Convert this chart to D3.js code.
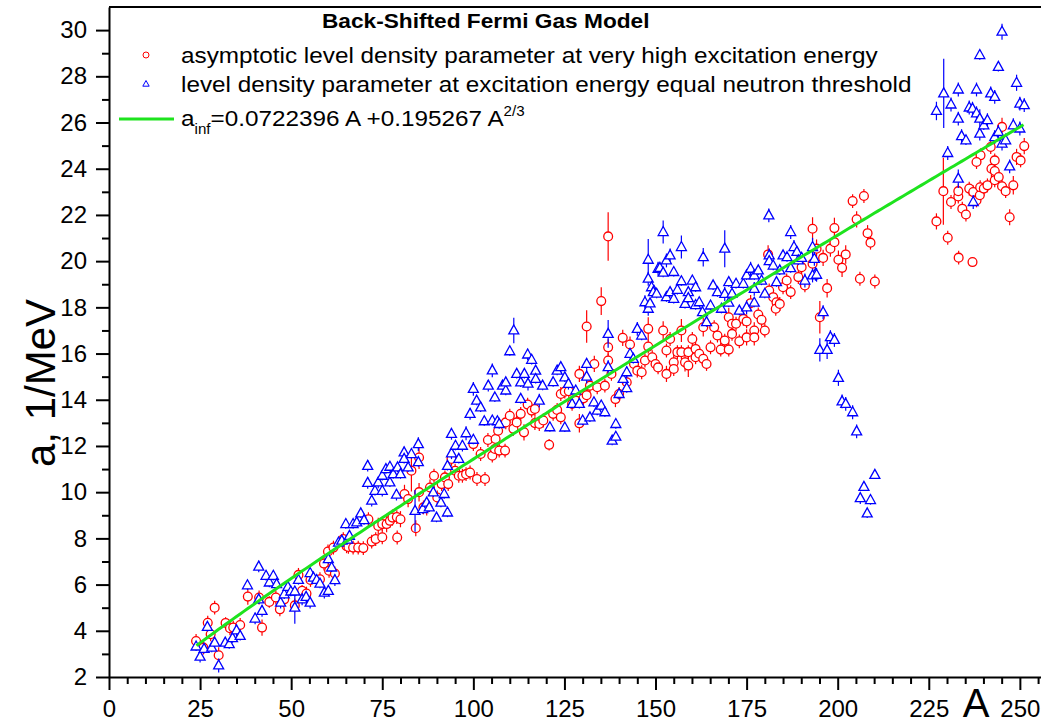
<!DOCTYPE html>
<html>
<head>
<meta charset="utf-8">
<script src="https://cdn.jsdelivr.net/npm/d3@7"></script>
<style>
  html, body { margin: 0; padding: 0; background: #fff; }
  svg text { font-family: "Liberation Sans", Arial, sans-serif; fill: #000; }
</style>
</head>
<body>
<svg id="chart" width="1041" height="726"></svg>
<script>
// Asymptotic level density parameter at very high excitation energy: [A, a (1/MeV), error]
const asymptotic = [
  [23.9,3.56,.3],[25.9,3.27,.3],[27.1,4.35,.3],[27.9,3.85,.3],[29.0,5.0,.3],[30.1,2.94,.35],[32.0,4.34,.25],[33.2,4.11,.3],[34.1,4.14,.3],[36.0,4.25,.3],
  [38.1,5.48,.35],[41.2,5.44,.3],[42.0,4.14,.35],[44.0,5.25,.25],[45.8,5.44,.3],[46.9,4.93,.3],[48.1,5.36,.3],[51.0,5.1,.3],[52.0,6.42,.3],[53.0,5.73,.25],
  [54.2,5.61,.3],[55.3,6.2,.3],[57.9,6.23,.3],[59.0,6.91,.3],[60.1,7.43,.3],[60.4,6.6,.3],[62.0,6.48,.3],[64.3,7.97,.3],[65.2,7.66,.3],
  [61.6,7.6,.3],[65.7,7.63,.3],[67,7.6,.3],[68.4,7.6,.3],[69.8,7.58,.3],[71.2,8.83,.3],[72.1,7.86,.3],[73.2,7.97,.3],[73.9,8.54,.35],[75,8.62,.3],
  [75,8.05,.3],[76.2,8.62,.35],[77.1,8.76,.3],[77.8,8.9,.35],[79.1,8.04,.3],[79,8.92,.3],[80,8.83,.35],[81.1,9.92,.4],[82.1,9.7,.35],[83,10.93,.9],
  [84.2,8.44,.35],[85.1,11.5,.5],[85.1,10,.4],[86.3,9.34,.3],[87.2,9.34,.35],[88.1,10.2,.35],[89.2,10.71,.3],[90.1,9.77,.3],[91.3,10.35,.3],[92.2,10.64,.3],
  [93.1,10.35,.3],[94,11.44,.3],[95,10.93,.3],[96,10.71,.3],[97,10.71,.3],[98,10.78,.3],[99.1,10.85,.3],[100,12.08,.3],[101,10.57,.3],[102,11.65,.3],
  [103.2,10.57,.3],[104,12.26,.3],[105.2,11.58,.3],[106.1,12.3,.3],[106.8,12.66,.3],
  [105.9,11.87,.3],[107.1,11.8,.3],[108.7,11.8,.3],[108.9,13.02,.3],[110,13.31,.3],[111,12.74,.3],[111.9,13.02,.3],[113,13.39,.3],[113.9,12.59,.35],[114.9,13.79,.3],
  [116,13.53,.3],[116.9,13.6,.3],[116.9,12.99,.3],[118.1,12.95,.3],[119.2,13.1,.3],[120.8,12.05,.25],[121.9,13.39,.3],[123,13.56,.3],[124,14.25,.3],[124,13.24,.3],
  [125.1,14.35,.3],[126.2,14.37,.3],[127.1,13.82,.3],[128.2,13.96,.3],[129.1,15.12,.35],[129.1,12.98,.4],[130.2,14.06,.3],[131.1,17.17,.7],[131.1,14.2,.3],[132,14.61,.3],
  [133.2,15.55,.35],[134,14.54,.3],[135.1,18.27,.6],[136.1,14.61,.3],[137,21.07,1.05],[137,16.27,.35],[137,15.7,.3],[137.9,15.12,.3],[139,14.03,.35],[140,14.25,.3],
  [141,16.68,.35],[142.1,14.76,.3],[143,16.39,.35],[144.1,15.55,.3],[145,15.26,.3],[146.2,15.19,.3],[147.1,15.7,.3],[148,17.07,.5],[148,16.3,.3],[149.1,15.84,.3],
  [150,15.55,.3],[150.7,15.4,.3],
  [152.1,17.0,.4],[153,16.13,.3],[153,15.12,.35],[154,16.63,.3],[155,15.62,.35],[155,15.33,.3],[156,16.06,.3],[157.1,17.0,.5],[157.1,16.06,.3],[158.1,15.62,.4],
  [159,16.06,.3],[159,15.48,.5],[160.1,16.63,.3],[161,16.2,.3],[161,15.84,.3],[162,15.99,.3],[163.1,15.77,.3],[164,15.55,.3],[163.1,17.14,.4],[165.1,16.27,.3],
  [166.1,17.14,.3],[167,16.78,.3],[167.9,16.17,.3],[169,16.56,.3],[170.1,16.17,.3],[170.1,17.57,.4],[171,17.29,.35],[171,16.85,.3],[172.1,17.29,.3],[173,16.53,.3],
  [174.1,17.5,.3],[175,17.39,.3],[175,16.7,.35],[176.1,18.18,.35],[177.1,17.0,.35],[177.1,16.7,.35],[178.2,17.69,.3],[179.1,17.46,.3],[180,17.0,.3],[180.9,20.29,.4],
  [181.2,18.73,.3],[182.3,18.44,.3],[183.2,18.22,.3],[183,17.94,.3],[184.1,18.15,.3],[185,18.87,.3],[186,19.16,.3],[187.1,18.66,.3],[189.2,19.31,.3],[190.1,19.74,.3],
  [191,18.95,.3],[193.1,21.4,.5],[193.1,19.89,.3],
  [194.2,20.54,.4],[195.1,17.57,.7],[196,20.14,.35],[197.1,18.83,.4],[198,20.54,.35],[199.1,21.43,.45],[199.1,20.82,.3],[200.2,20.06,.4],[201.2,19.71,.4],[202.2,20.29,.4],
  [204.1,22.6,.3],[205.2,21.81,.35],[206.1,19.24,.3],[207.2,22.82,.3],[208.2,21.21,.35],[209,20.8,.3],[210.2,19.12,.3],
  [227.1,21.72,.35],[229,23.03,1.45],[230.2,21.01,.3],[231.1,22.56,.3],[233.1,22.8,.3],[233.1,23.03,.3],[233.2,20.15,.3],[234.2,22.27,.3],[235.2,22.02,.3],[236.1,23.14,.3],
  [237,19.96,.2],[237.2,22.99,.3],[238.1,22.63,.3],[239,22.85,.3],[239.1,23.2,.3],[239.2,24.58,.3],[238.1,24.29,.3],[240.1,23.14,.3],[241.1,23.28,.3],[242,24.94,.3],
  [242.2,24.0,.4],[243.1,24.36,.3],[243.1,23.9,.3],[243.1,23.5,.3],[244.2,23.64,.3],[245.1,25.81,.4],[245.1,23.24,.3],[246.1,23.03,.3],[247.2,21.9,.35],[248.2,23.28,.4],
  [249.1,24.51,.35],[250.2,24.36,.3],[251.2,24.98,.35]
];

// Level density parameter at excitation energy equal to the neutron threshold: [A, a (1/MeV), error]
const threshold = [
  [23.9,3.32,.2],[25,2.88,.25],[26.1,3.22,.2],[27,4.17,.2],[28.2,3.27,.2],[29,3.49,.2],[30.1,2.5,.3],[31.9,3.49,.2],[33,3.42,.2],[33.9,3.68,.2],
  [35,4.02,.25],[36,3.78,.2],[38,5.97,.2],[40.1,4.53,.25],[41.1,6.78,.25],[41.1,5.36,.2],[42,4.86,.25],[43.1,6.38,.2],[44,6.09,.2],[45.1,6.38,.2],
  [46,6.02,.2],[47.1,5.22,.25],[48.1,5.58,.2],[49.1,5.9,.2],[49.9,5.7,.2],[51,5.0,.7],[51,5.7,.2],[52,6.2,.2],[53,5.36,.25],[54.1,5.47,.2],
  [55.2,5.22,.25],[55.2,6.5,.2],[56.1,6.3,.2],[57,6.2,.2],[57.9,6.04,.2],[59.1,5.65,.25],[60.2,5.73,.2],[60.2,7.1,.2],[61.1,6.74,.2],[62,6.19,.25],
  [63,7.82,.2],[63.9,7.9,.2],[65,8.62,.2],[65.5,7.95,.2],
  [66,8.11,.2],[67,8.62,.2],[68,8.69,.2],[69.1,9.08,.2],[70,8.79,.2],[71,11.14,.25],[71,10.4,.25],[72.1,9.63,.25],[73,10.06,.2],[73.9,10.42,.25],
  [75,10.71,.2],[75,10.06,.25],[76,11.0,.2],[77.1,10.42,.2],[77.1,11.1,.2],[78,10.78,.2],[78.9,9.89,.25],[79.2,11.07,.2],[80,10.78,.2],[81,11.72,.25],
  [81,11.44,.2],[82.1,11.07,.2],[83,11.65,.2],[84,9.19,.9],[84.9,12.08,.3],[84.9,11.3,.2],[86.1,9.27,.2],[87.2,9.55,.2],[87.9,9.34,.2],[89,9.99,.2],
  [89.9,8.9,.2],[91.1,9.55,.2],[92,9.92,.2],[92.9,9.12,.2],[92.9,11.14,.2],[94,11.68,.25],[94,12.52,.25],[95.1,12.01,.2],[96,11.44,.2],[97,12.01,.25],
  [98,12.55,.3],[99.1,13.39,.25],[100,12.27,.2],[100,14.47,.3],[100.9,13.96,.2],[102,13.67,.2],[103,13.07,.2],[104.1,14.61,.25],[105.2,13.1,.2],[105.2,15.27,.3],
  [105.9,14.1,.2],[106.6,13.07,.2],
  [107.1,12.95,.2],[108,14.61,.2],[108.9,14.4,.2],[108.9,14.75,.2],[110,16.1,.2],[111.1,17.0,.55],[111.9,15.12,.2],[113,14.04,.2],[113,14.75,.2],[114,15.12,.2],
  [114.9,15.96,.25],[115,14.7,.3],[116,15.73,.2],[117.1,15.26,.2],[117.1,14.9,.2],[118.1,13.96,.3],[119,14.61,.2],[121,12.81,.2],[121.9,14.76,.2],[123,15.26,.2],
  [124,15.41,.2],[125.1,14.97,.2],[125.1,12.8,.2],[126.1,14.69,.25],[127.1,13.82,.2],[128.1,14.4,.2],[129.1,13.82,.2],[130,13.1,.2],[131.1,15.55,.25],[131.1,15.0,.3],
  [132,13.24,.2],[133.1,13.89,.2],[134,13.53,.2],[135.1,13.75,.2],[136.1,13.46,.2],[137,16.85,.6],[137,15.41,.3],[138.1,12.23,.2],[139.1,12.95,.2],[139.1,12.4,.2],
  [140,14.25,.25],[141.1,14.9,.2],[142.1,15.19,.25],[142.1,14.5,.2],[143,15.99,.2],[143.9,15.77,.2],[145,17.07,.3],[146.2,16.78,.2],[147.1,18.22,.3],[148,17.94,.3],
  [148,19.24,.3],[148,20.06,.9],[148.9,18.87,.3],[149.6,18.7,.2],[150.7,19.67,.3],
  [148.5,18.17,.2],[149.4,18.66,.2],[150.3,18.59,.2],[151.2,19.71,.2],[152.1,21.26,.5],[152.1,19.5,.2],[153,20.03,.3],[153,18.44,.2],[154,20.25,.3],[154,18.66,.2],
  [155,19.53,.2],[155,18.37,.2],[156,18.76,.2],[157.1,20.61,.5],[157.1,19.13,.2],[158.1,18.15,.2],[159,18.66,.2],[159,18.4,.2],[160.1,19.16,.2],[161,18.87,.2],
  [161,18.1,.2],[162,18.22,.2],[162.9,17.79,.2],[163.1,20.17,.4],[164,17.36,.2],[165.1,18.08,.2],[165.8,18.95,.2],[167,18.66,.2],[168.1,17.94,.2],[169,20.54,.8],
  [169,18.58,.3],[170.1,19.09,.2],[170.1,18.2,.2],[171,18.59,.2],[172.1,19.02,.2],[173,17.86,.2],[174.1,19.02,.2],[175,19.38,.2],[175,18.0,.3],[176.1,19.67,.3],
  [177.1,19.38,.2],[177.1,18.8,.3],[177.1,18.2,.2],[178.2,19.6,.2],[179.1,19.16,.2],[180,18.59,.2],[181.1,21.98,.3],[181.2,20.25,.3],[181.2,20.0,.2],[182.3,19.81,.2],
  [183.2,19.09,.2],[184.1,19.6,.2],[185,20.25,.2],[186.1,20.17,.2],[187.1,21.26,.3],[187.1,19.7,.2],[188,20.61,.3],[188.8,20.4,.2],[189.2,20.03,.2],[191,19.16,.3],
  [193.1,20.61,.4],[193.6,20.1,.3],[193.9,19.45,.3],
  [190.1,20.14,.2],[193.1,19.38,.3],[194.2,19.41,.3],[196,17.79,.3],[195.1,16.16,.5],[197.1,16.16,.4],[198,16.71,.3],[199.1,16.59,.3],[200.2,14.95,.35],[201.2,13.93,.3],
  [202.2,13.82,.3],[204.1,13.46,.3],[205.2,12.63,.3],[207.2,10.23,.15],[206.2,9.74,.25],[209,9.66,.2],[208.1,9.08,.2],[210.2,10.75,.15],
  [227.1,26.5,.4],[229.1,27.26,1.5],[230.2,24.68,.3],[231.1,26.78,.3],[233.1,27.43,.3],[233.1,26.17,.3],[233.1,23.57,.4],[234,25.41,.3],[235.2,25.23,.2],[236.1,26.65,.3],
  [237,26.6,.3],[237.2,22.56,.3],[238.1,27.43,.3],[238.1,26.4,.3],[239,28.92,.2],[239,26.17,.4],[239,25.52,.3],[240.1,25.88,.2],[241.1,26.1,.3],[242,27.26,.3],
  [243.1,27.11,.3],[243.1,25.37,.3],[244.1,28.41,.2],[244.1,25.59,.3],[245.1,29.93,.35],[245.1,25.09,.3],[246.1,25.23,.3],[247.2,24.1,.3],[248.2,25.88,.3],[249.1,27.72,.35],
  [250,26.82,.3],[251.2,26.75,.3],[250,25.74,.3]
];

// Fit: a_inf = c1 * A + c2 * A^(2/3), drawn over the measured mass range
const fitCoefficients = [0.0722396, 0.195267];
const fitRange = [24, 251];

const xTickValues = [0, 25, 50, 75, 100, 125, 150, 175, 200, 225, 250];
const yTickValues = [2, 4, 6, 8, 10, 12, 14, 16, 18, 20, 22, 24, 26, 28, 30];

const legendTitle = "Back-Shifted Fermi Gas Model";
const legendLabels = [
  "asymptotic level density parameter at very high excitation energy",
  "level density parameter at excitation energy equal neutron threshold"
];

const RED = "#ff0000", BLUE = "#0000ff", GREEN = "#1ee31e";

const svg = d3.select("#chart");
const plotLeft = 109, plotRight = 1041, plotTop = 7, plotBottom = 677;

const x = d3.scaleLinear().domain([0, 255.8]).range([plotLeft, plotRight]);
const y = d3.scaleLinear().domain([2, 31]).range([plotBottom, plotTop]);

// Frame line along the top
svg.append("line")
  .attr("x1", plotLeft).attr("x2", plotRight).attr("y1", plotTop).attr("y2", plotTop)
  .attr("stroke", "#000").attr("stroke-width", 2);

// Minor ticks
const xMinor = d3.range(0, 256, 5).filter(v => v % 25 !== 0);
const yMinor = d3.range(3, 31, 2);
svg.append("g").attr("transform", `translate(0,${plotBottom})`)
  .call(d3.axisBottom(x).tickValues(xMinor).tickSize(7).tickFormat(""))
  .call(g => g.select(".domain").remove())
  .call(g => g.selectAll("line").attr("stroke-width", 2));
svg.append("g").attr("transform", `translate(${plotLeft},0)`)
  .call(d3.axisLeft(y).tickValues(yMinor).tickSize(7).tickFormat(""))
  .call(g => g.select(".domain").remove())
  .call(g => g.selectAll("line").attr("stroke-width", 2));

// Major axes
const xAxis = svg.append("g").attr("transform", `translate(0,${plotBottom})`)
  .call(d3.axisBottom(x).tickValues(xTickValues).tickSize(13).tickSizeOuter(0).tickPadding(10));
const yAxis = svg.append("g").attr("transform", `translate(${plotLeft},0)`)
  .call(d3.axisLeft(y).tickValues(yTickValues).tickSize(13).tickSizeOuter(0).tickPadding(9));
[xAxis, yAxis].forEach(g => {
  g.select(".domain").attr("stroke-width", 2);
  g.selectAll(".tick line").attr("stroke-width", 2);
  g.selectAll(".tick text").attr("font-size", 24).attr("font-family", "Liberation Sans, Arial, sans-serif");
});

// Axis titles
svg.append("text")
  .attr("x", 976).attr("y", 717).attr("text-anchor", "middle")
  .attr("font-size", 40).text("A");
svg.append("text")
  .attr("transform", "translate(55,383) rotate(-90)")
  .attr("text-anchor", "middle").attr("font-size", 42).text("a, 1/MeV");

// Data layers
const plot = svg.append("g");
const triangle = "M0,-5.5L5,3.5L-5,3.5Z";

function drawSeries(data, color, shape) {
  const g = plot.append("g");
  g.selectAll("line.err").data(data).join("line")
    .attr("class", "err")
    .attr("x1", d => x(d[0])).attr("x2", d => x(d[0]))
    .attr("y1", d => y(d[1] - d[2])).attr("y2", d => y(d[1] + d[2]))
    .attr("stroke", color).attr("stroke-width", 1.2);
  if (shape === "circle") {
    g.selectAll("circle").data(data).join("circle")
      .attr("cx", d => x(d[0])).attr("cy", d => y(d[1])).attr("r", 4.4)
      .attr("fill", "#fff").attr("stroke", color).attr("stroke-width", 1.3);
  } else {
    g.selectAll("path").data(data).join("path")
      .attr("d", triangle)
      .attr("transform", d => `translate(${x(d[0])},${y(d[1])})`)
      .attr("fill", "#fff").attr("stroke", color).attr("stroke-width", 1.3);
  }
}
drawSeries(asymptotic, RED, "circle");
drawSeries(threshold, BLUE, "triangle");

// Fit curve
const fitA = d3.range(fitRange[0], fitRange[1] + 0.5, 1);
const fit = a => fitCoefficients[0] * a + fitCoefficients[1] * Math.pow(a, 2 / 3);
svg.append("path")
  .datum(fitA)
  .attr("d", d3.line().x(a => x(a)).y(a => y(fit(a))))
  .attr("fill", "none").attr("stroke", GREEN).attr("stroke-width", 3);

// Legend (text slightly widened horizontally)
const legend = svg.append("g");
const sx = 1.08;
function legendText(x0, y0, size) {
  return legend.append("text")
    .attr("transform", `translate(${x0},${y0}) scale(${sx},1)`)
    .attr("font-size", size);
}
legendText(322, 28, 21).attr("font-weight", "bold").text(legendTitle);
legend.append("circle").attr("cx", 146).attr("cy", 55).attr("r", 3)
  .attr("fill", "#fff").attr("stroke", RED).attr("stroke-width", 1);
legend.append("path").attr("d", "M0,-3.5L3.2,2.2L-3.2,2.2Z")
  .attr("transform", "translate(146,84)")
  .attr("fill", "#fff").attr("stroke", BLUE).attr("stroke-width", 1);
legendText(181, 63, 22.5).text(legendLabels[0]);
legendText(181, 92, 22.5).text(legendLabels[1]);
legend.append("line").attr("x1", 119).attr("x2", 174).attr("y1", 119).attr("y2", 119)
  .attr("stroke", GREEN).attr("stroke-width", 3);
const fitLabel = legendText(181, 126, 22.5);
fitLabel.append("tspan").text("a");
fitLabel.append("tspan").attr("font-size", 14).attr("dy", 8).text("inf");
fitLabel.append("tspan").attr("dy", -8).text(`=${fitCoefficients[0]} A +${fitCoefficients[1]} A`);
fitLabel.append("tspan").attr("font-size", 14).attr("dy", -10).text("2/3");
</script>
</body>
</html>
